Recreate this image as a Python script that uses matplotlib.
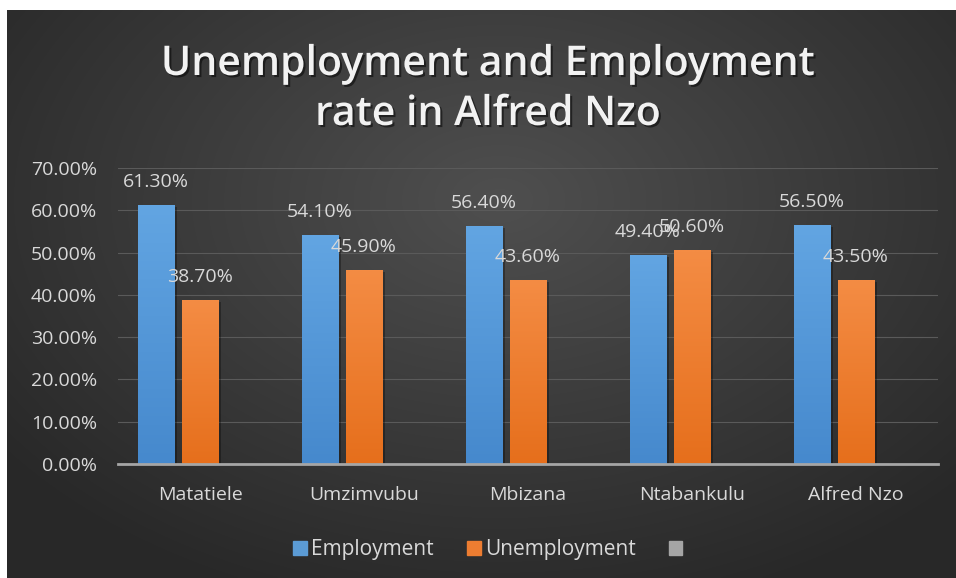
import numpy as np
import matplotlib
matplotlib.use("Agg")
import matplotlib.pyplot as plt
import matplotlib.patheffects as pe
from matplotlib.patches import Patch

# Employment vs unemployment by local municipality (percent)
categories = ["Matatiele", "Umzimvubu", "Mbizana", "Ntabankulu", "Alfred Nzo"]
employment = [61.3, 54.1, 56.4, 49.4, 56.5]
unemployment = [38.7, 45.9, 43.6, 50.6, 43.5]
series_names = ["Employment", "Unemployment", ""]
y_ticks = [0, 10, 20, 30, 40, 50, 60, 70]

W, H = 956, 578
FONT = "Open Sans"
TXT = "#d9d9d9"

plt.rcParams["font.family"] = [FONT, "DejaVu Sans"]

fig = plt.figure(figsize=(W / 100, H / 100), dpi=100, facecolor="white")

# dark radial-gradient backdrop (thin white margin on top and left)
bg = fig.add_axes([0, 0, 1, 1], zorder=0)
bg.set_xlim(0, W)
bg.set_ylim(H, 0)
bg.axis("off")
xx, yy = np.meshgrid(np.linspace(7, W, 400), np.linspace(10, H, 250))
r = np.sqrt(((xx - 500) / 620) ** 2 + ((yy - 200) / 420) ** 2)
shade = 0.31 - 0.15 * np.clip(r, 0, 1)
bg.imshow(np.dstack([shade] * 3), extent=[7, W, H, 10], aspect="auto",
          interpolation="bilinear")

# title with a soft drop shadow
shadow = [pe.withSimplePatchShadow(offset=(1.5, -1.5), shadow_rgbFace="black", alpha=0.5)]
fig.text(488 / W, 1 - 75 / H, "Unemployment and Employment", ha="center", va="baseline",
         fontsize=29.5, fontweight="semibold", color="#f2f2f2", path_effects=shadow)
fig.text(488 / W, 1 - 125 / H, "rate in Alfred Nzo", ha="center", va="baseline",
         fontsize=29.5, fontweight="semibold", color="#f2f2f2", path_effects=shadow)

ax = fig.add_axes([118 / W, 1 - 464 / H, 820 / W, 296 / H], zorder=1)
ax.patch.set_alpha(0)

x = np.arange(len(categories))
step = 0.268
width = 0.22
colors = [("#62a5e2", "#4689cd"), ("#f48c44", "#e66f1c")]

for k, vals in enumerate([employment, unemployment]):
    bars = ax.bar(x + (k - 1) * step, vals, width, color=colors[k][1], zorder=3)
    for rect, v in zip(bars, vals):
        rect.set_path_effects([pe.SimplePatchShadow(offset=(2, -1.5), shadow_rgbFace="black",
                                                    alpha=0.3), pe.Normal()])
        top = np.array(matplotlib.colors.to_rgb(colors[k][0]))
        bot = np.array(matplotlib.colors.to_rgb(colors[k][1]))
        t = np.linspace(0, 1, 64)[:, None]
        grad = (top * (1 - t) + bot * t)[:, None, :]
        x0, w = rect.get_x(), rect.get_width()
        im = ax.imshow(grad, extent=[x0, x0 + w, 0, v], aspect="auto", zorder=3.5,
                       interpolation="bilinear")
        im.set_clip_path(rect)
        ax.annotate(f"{v:.2f}%", (x0 + w / 2, v), xytext=(0, 16.5), textcoords="offset points",
                    ha="center", va="center", fontsize=14, color=TXT, zorder=5)

ax.set_xlim(-0.5, len(categories) - 0.5)
ax.set_ylim(0, 70)
ax.set_yticks(y_ticks)
ax.set_yticklabels([f"{t:.2f}%" for t in y_ticks])
ax.set_xticks(x)
ax.set_xticklabels(categories)
ax.tick_params(axis="y", length=0, pad=15, labelsize=14, labelcolor=TXT)
ax.tick_params(axis="x", length=0, pad=16, labelsize=14, labelcolor=TXT)
ax.grid(axis="y", color="#5a5a5a", linewidth=0.8, zorder=0)
ax.set_axisbelow(True)
for s in ["top", "right", "left"]:
    ax.spines[s].set_visible(False)
ax.spines["bottom"].set_color("#a6a6a6")
ax.spines["bottom"].set_linewidth(2)
ax.spines["bottom"].set_zorder(4)

handles = [Patch(color="#5b9bd5"), Patch(color="#ed7d31"), Patch(color="#a5a5a5")]
fig.legend(handles, series_names, loc="center", bbox_to_anchor=(490 / W, 1 - 550 / H),
           ncol=3, frameon=False, fontsize=15, labelcolor=TXT, handlelength=0.65,
           handleheight=0.65, handletextpad=0.2, columnspacing=1.6)

fig.savefig("out.png", dpi=100, facecolor="white")
